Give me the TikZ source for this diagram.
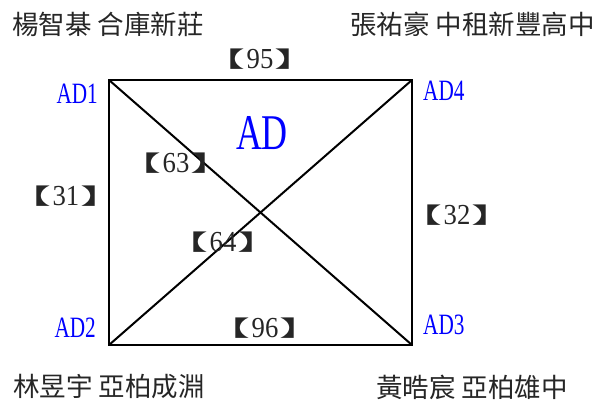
\documentclass[tikz,border=0pt]{standalone}
\usepackage{fontspec}
\usepackage{xcolor}
\usepackage{graphicx}
\setmainfont{Liberation Serif}
\newfontfamily\cjk{Noto Sans CJK TC}
\newfontfamily\narrow[FakeStretch=0.72]{Liberation Serif}
\newfontfamily\digits[FakeStretch=0.92]{Liberation Serif}
\usetikzlibrary{positioning}
\definecolor{adblue}{rgb}{0.0, 0.0, 1.0}
\tikzstyle{player} = [
    inner sep=0pt,
    font=\cjk\fontsize{26.5}{28}\selectfont,
    text=black!85
]
\tikzstyle{corner} = [
    inner sep=0pt,
    font=\narrow\fontsize{29.5}{30}\selectfont,
    text=adblue
]
\tikzstyle{score} = [
    inner sep=0pt,
    font=\digits\fontsize{29}{30}\selectfont,
    text=black!85
]
\tikzstyle{edge} = [
    line width=2pt,
    draw=black
]
% lenticular brackets, ink kept tight to the digits
\newcommand{\lbk}{\kern-29.3pt\raisebox{1.2pt}{\scalebox{2.0}[1]{\cjk\fontsize{22}{24}\selectfont 【}}\kern1.5pt}
\newcommand{\rbk}{\kern1.5pt\raisebox{1.2pt}{\scalebox{2.0}[1]{\cjk\fontsize{22}{24}\selectfont 】}}\kern-29.3pt}
\newcommand{\bk}[1]{\lbk#1\rbk}

\begin{document}
\begin{tikzpicture}[x=1pt, y=-1pt]
        \useasboundingbox (0,0) rectangle (600,403);
        % square corners
        \coordinate (c1) at (109,80);
        \coordinate (c4) at (412,80);
        \coordinate (c2) at (109,345);
        \coordinate (c3) at (412,345);

        \draw[edge] (c1) -- (c4) -- (c3) -- (c2) -- cycle;
        \draw[edge] (c1) -- (c3);
        \draw[edge] (c2) -- (c4);

        % corner labels
        \node[corner, anchor=east] (ad1) at (98,94) {AD1};
        \node[corner, anchor=west] (ad4) at (423,91) {AD4};
        \node[corner, anchor=east] (ad2) at (96,328) {AD2};
        \node[corner, anchor=west] (ad3) at (423,325) {AD3};
        \node[corner, font=\narrow\fontsize{50}{52}\selectfont] (ad) at (262,133) {AD};

        % players
        \node[player, anchor=west] (p1) at (12,24) {楊智棊 合庫新莊};
        \node[player, anchor=east] (p4) at (595,24) {張祐豪 中租新豐高中};
        \node[player, anchor=west] (p2) at (13,387) {林昱宇 亞柏成淵};
        \node[player, anchor=west] (p3) at (376,387) {黃晧宸 亞柏雄中};

        % match numbers
        \node[score] (m95) at (260,59) {\bk{95}};
        \node[score] (m63) at (176,163) {\bk{63}};
        \node[score] (m31) at (66,196) {\bk{31}};
        \node[score] (m32) at (457,215) {\bk{32}};
        \node[score] (m64) at (223,242) {\bk{64}};
        \node[score] (m96) at (265,328) {\bk{96}};
    \end{tikzpicture}
\end{document}
